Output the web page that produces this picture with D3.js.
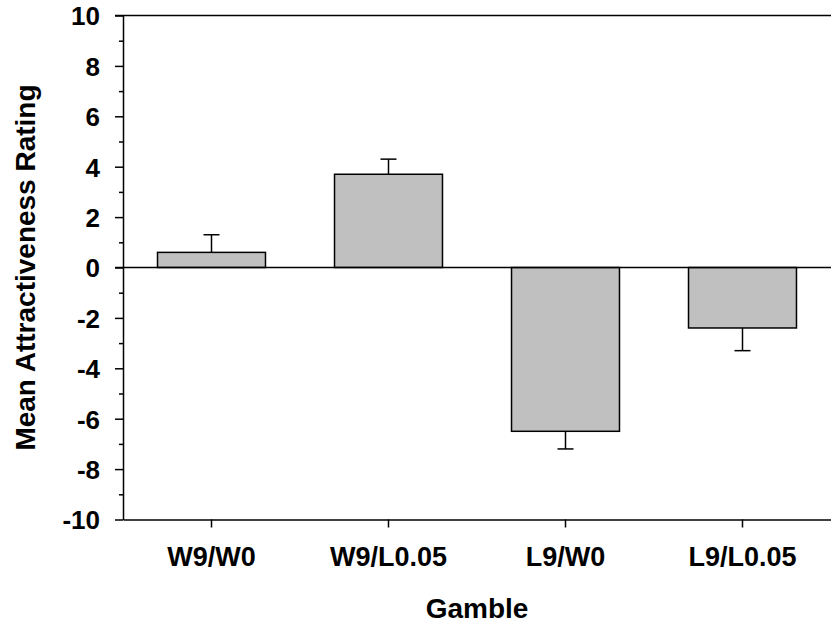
<!DOCTYPE html>
<html>
<head>
<meta charset="utf-8">
<script src="https://cdn.jsdelivr.net/npm/d3@7"></script>
<style>
  body { margin: 0; background: #fff; }
  svg text { font-family: "Liberation Sans", Arial, sans-serif; font-weight: bold; fill: #000; }
</style>
</head>
<body>
<svg id="chart" width="831" height="630"></svg>
<script>
const categories = ['W9/W0', 'W9/L0.05', 'L9/W0', 'L9/L0.05'];
const means = [0.6, 3.7, -6.5, -2.4];
const errors = [0.7, 0.6, 0.7, 0.9];
const yTicks = [-10, -8, -6, -4, -2, 0, 2, 4, 6, 8, 10];
const yMinorTicks = [-9, -7, -5, -3, -1, 1, 3, 5, 7, 9];

const margin = {top: 15.5, right: 0, bottom: 110.5, left: 123};
const width = 831 - margin.left - margin.right;
const height = 630 - margin.top - margin.bottom;

const svg = d3.select('#chart');
const g = svg.append('g')
    .attr('transform', 'translate(' + margin.left + ',' + margin.top + ')');

const x = d3.scaleBand().domain(categories).range([0, width]).paddingInner(0.39).paddingOuter(0.195);
const y = d3.scaleLinear().domain([-10, 10]).range([height, 0]);

// bars
g.selectAll('rect.bar')
    .data(means)
    .enter().append('rect')
    .attr('class', 'bar')
    .attr('x', (d, i) => x(categories[i]))
    .attr('width', x.bandwidth())
    .attr('y', d => y(Math.max(0, d)))
    .attr('height', d => Math.abs(y(d) - y(0)))
    .attr('fill', '#c0c0c0')
    .attr('stroke', '#000')
    .attr('stroke-width', 1.5);

// error bars, only away from zero
const eb = g.selectAll('g.err')
    .data(means)
    .enter().append('g')
    .attr('class', 'err');
eb.append('line')
    .attr('x1', (d, i) => x(categories[i]) + x.bandwidth() / 2)
    .attr('x2', (d, i) => x(categories[i]) + x.bandwidth() / 2)
    .attr('y1', d => y(d))
    .attr('y2', (d, i) => y(d + Math.sign(d) * errors[i]))
    .attr('stroke', '#000').attr('stroke-width', 1.5);
eb.append('line')
    .attr('x1', (d, i) => x(categories[i]) + x.bandwidth() / 2 - 8)
    .attr('x2', (d, i) => x(categories[i]) + x.bandwidth() / 2 + 8)
    .attr('y1', (d, i) => y(d + Math.sign(d) * errors[i]))
    .attr('y2', (d, i) => y(d + Math.sign(d) * errors[i]))
    .attr('stroke', '#000').attr('stroke-width', 1.5);

// zero line and top frame
g.append('line')
    .attr('x1', -8).attr('x2', width)
    .attr('y1', y(0)).attr('y2', y(0))
    .attr('stroke', '#000').attr('stroke-width', 1.5);
g.append('line')
    .attr('x1', -8).attr('x2', width)
    .attr('y1', y(10)).attr('y2', y(10))
    .attr('stroke', '#000').attr('stroke-width', 1.5);

// y axis
const yAxis = g.append('g')
    .call(d3.axisLeft(y).tickValues(yTicks).tickFormat(d => String(d))
      .tickSize(8).tickPadding(15).tickSizeOuter(0));
yAxis.select('.domain').attr('stroke-width', 1.5);
yAxis.selectAll('.tick line').attr('stroke-width', 1.5);
yAxis.selectAll('.tick text').style('font-size', '26px').attr('dy', '0.36em');
g.append('g')
    .call(d3.axisLeft(y).tickValues(yMinorTicks).tickSize(4).tickFormat(''))
    .call(a => a.select('.domain').remove())
    .selectAll('.tick line').attr('stroke-width', 1.5);

// x axis
const xAxis = g.append('g')
    .attr('transform', 'translate(0,' + height + ')')
    .call(d3.axisBottom(x).tickSize(8).tickPadding(19).tickSizeOuter(0));
xAxis.select('.domain').attr('stroke-width', 1.5);
xAxis.selectAll('.tick line').attr('stroke-width', 1.5);
xAxis.selectAll('.tick text').style('font-size', '27px');

// titles
svg.append('text')
    .attr('x', margin.left + width / 2)
    .attr('y', 618)
    .attr('text-anchor', 'middle')
    .style('font-size', '28px')
    .text('Gamble');
svg.append('text')
    .attr('transform', 'translate(35,' + (margin.top + y(0)) + ') rotate(-90)')
    .attr('text-anchor', 'middle')
    .style('font-size', '28px')
    .text('Mean Attractiveness Rating');
</script>
</body>
</html>
